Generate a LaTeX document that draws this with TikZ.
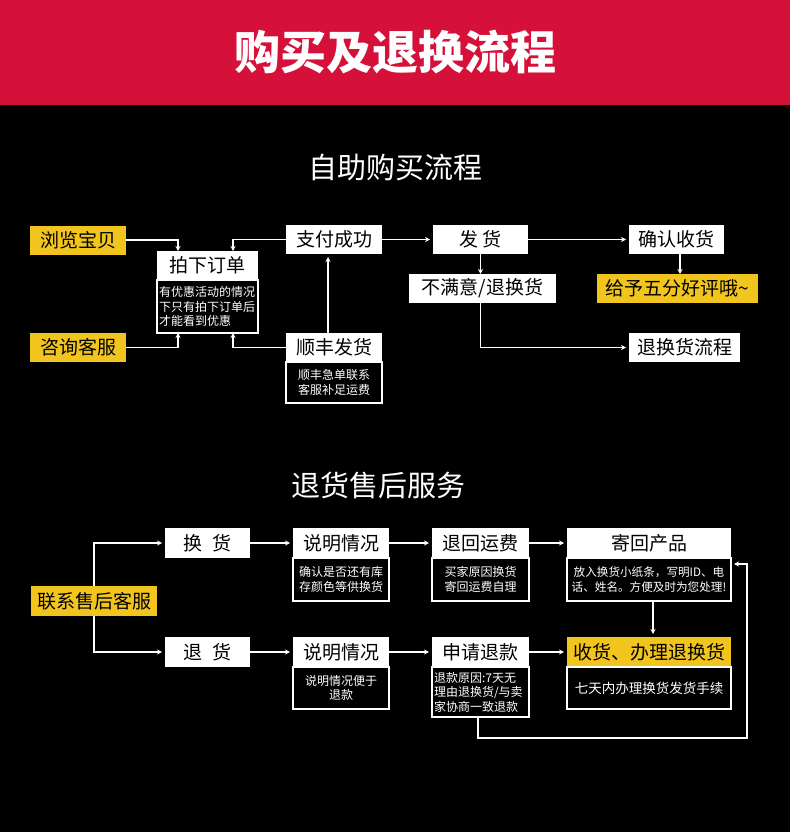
\documentclass[tikz,border=0pt]{standalone}
\usepackage{fontspec}
\setmainfont{Noto Sans CJK SC}
\usepackage{xcolor}
\usepackage{tikz}
\usetikzlibrary{arrows.meta, positioning}
\definecolor{bandred}{HTML}{D51039}
\definecolor{gold}{HTML}{F2C41E}

\begin{document}
\begin{tikzpicture}[x=1pt, y=-1pt, >=Stealth,
  whitebox/.style={fill=white, text=black, inner sep=0pt, outer sep=0pt, minimum height=29, font=\fontsize{19}{22}\selectfont},
  yellowbox/.style={whitebox, fill=gold},
  infobox/.style={draw=white, line width=1.2pt, fill=black, text=white, inner sep=2pt, outer sep=0pt, font=\fontsize{12}{14.5}\selectfont},
  flow/.style={draw=white, line width=1.2pt, shorten >=3pt, -{Stealth[length=5pt, width=5pt]}},
  heading/.style={text=white, font=\fontsize{29}{32}\selectfont}]

% ── Background ───────────────────────────────────────────────────
\fill[black] (0,0) rectangle (790,832);
\fill[bandred] (0,0) rectangle (790,105);
\useasboundingbox (0,0) rectangle (790,832);

\node[text=white, font=\fontsize{46}{50}\selectfont\bfseries] (title) at (395,52) {购买及退换流程};

% ── TOP: self-service purchase ───────────────────────────────────
\node[heading] (buyhead) at (395,167) {自助购买流程};

\node[yellowbox, minimum width=96] (browse) at (78,240) {浏览宝贝};
\node[yellowbox, minimum width=96] (consult) at (78,347.5) {咨询客服};

\node[whitebox, minimum width=101] (order) at (207.5,265.5) {拍下订单};
\node[infobox, text width=97, minimum height=53, align=left, below=0pt of order] (orderinfo)
    {有优惠活动的情况\\下只有拍下订单后\\才能看到优惠};

\node[whitebox, minimum width=96] (paid) at (334,239.5) {支付成功};
\node[whitebox, minimum width=96] (sf) at (334,347.5) {顺丰发货};
\node[infobox, text width=92, minimum height=41, align=center, below=0pt of sf] (sfinfo)
    {顺丰急单联系\\客服补足运费};

\node[whitebox, minimum width=95] (ship) at (480.5,239.5) {发 货};
\node[whitebox, minimum width=95] (confirm) at (676.5,239.5) {确认收货};
\node[whitebox, minimum width=147] (unhappy) at (482.5,288.5) {不满意/退换货};
\node[yellowbox, minimum width=161] (praise) at (677.5,288.5) {给予五分好评哦\textasciitilde};
\node[whitebox, minimum width=111] (returnflow) at (684.5,347.5) {退换货流程};

% Connectors
\draw[flow, shorten >=0pt] (browse.east) -| ([xshift=-29.5pt]order.north);
\draw[flow, shorten >=0pt] (consult.east) -| ([xshift=-29.5pt]orderinfo.south);
\draw[flow, shorten >=0pt] (paid.west) -| ([xshift=25.5pt]order.north);
\draw[flow, shorten >=0pt] (sf.west) -| ([xshift=25.5pt]orderinfo.south);
\draw[flow] ([xshift=-6pt]sf.north) -- ([xshift=-6pt]paid.south);
\draw[flow] (paid) -- (ship);
\draw[flow] (ship) -- (confirm);
\draw[flow, shorten >=0pt] (ship.south) -- (ship.south |- unhappy.north);
\draw[flow, shorten >=0pt] ([xshift=3.5pt]confirm.south) -- ([xshift=3.5pt]confirm.south |- praise.north);
\draw[flow] (unhappy.south -| ship.south) |- (returnflow.west);

% ── BOTTOM: after-sales service ──────────────────────────────────
\node[heading] (servicehead) at (378,485) {退货售后服务};

\node[yellowbox, minimum width=126, minimum height=30] (contact) at (94,601) {联系售后客服};
\node[whitebox, minimum width=85, minimum height=30] (swap) at (207.5,543) {换\hspace{0.5em}货};
\node[whitebox, minimum width=85, minimum height=30] (refund) at (207.5,652) {退\hspace{0.5em}货};

\node[whitebox, minimum width=96, minimum height=30] (explainA) at (341,543) {说明情况};
\node[infobox, text width=92, minimum height=43, align=center, below=0pt of explainA] (explainAinfo)
    {确认是否还有库\\存颜色等供换货};
\node[whitebox, minimum width=96, minimum height=30] (explainB) at (341,652) {说明情况};
\node[infobox, text width=92, minimum height=42, align=center, below=0pt of explainB] (explainBinfo)
    {说明情况便于\\退款};

\node[whitebox, minimum width=97, minimum height=30] (fee) at (480.5,543) {退回运费};
\node[infobox, text width=93, minimum height=43, align=center, below=0pt of fee] (feeinfo)
    {买家原因换货\\寄回运费自理};
\node[whitebox, minimum width=97, minimum height=30] (apply) at (480.5,652) {申请退款};
\node[infobox, text width=93, minimum height=50, align=left, below=0pt of apply] (applyinfo)
    {退款原因:7天无\\理由退换货/与卖\\家协商一致退款};

\node[whitebox, minimum width=164, minimum height=30] (sendback) at (649,543) {寄回产品};
\node[infobox, text width=162, inner sep=1pt, minimum height=43, align=center,
      font=\fontsize{11.6}{14.5}\selectfont, below=0pt of sendback] (sendbackinfo)
    {放入换货小纸条，写明ID、电\\话、姓名。方便及时为您处理!};
\node[yellowbox, minimum width=164, minimum height=30] (receive) at (649,652) {收货、办理退换货};
\node[infobox, text width=160, minimum height=42, align=center,
      font=\fontsize{13.5}{16}\selectfont, below=0pt of receive] (receiveinfo)
    {七天内办理换货发货手续};

% Connectors
\coordinate (loopcorner) at (747,738);
\draw[flow] (contact.north) |- (swap.west);
\draw[flow] (contact.south) |- (refund.west);
\draw[flow] (swap) -- (explainA);
\draw[flow] (explainA) -- (fee);
\draw[flow] (fee) -- (sendback);
\draw[flow] (refund) -- (explainB);
\draw[flow] (explainB) -- (apply);
\draw[flow] (apply) -- (receive);
\draw[flow] ([xshift=4pt]sendbackinfo.south) -- ([xshift=4pt]sendbackinfo.south |- receive.north);
\draw[flow] ([xshift=-2.5pt]applyinfo.south) |- (loopcorner) |- ([yshift=15.5pt]sendbackinfo.east);

\end{tikzpicture}
\end{document}
